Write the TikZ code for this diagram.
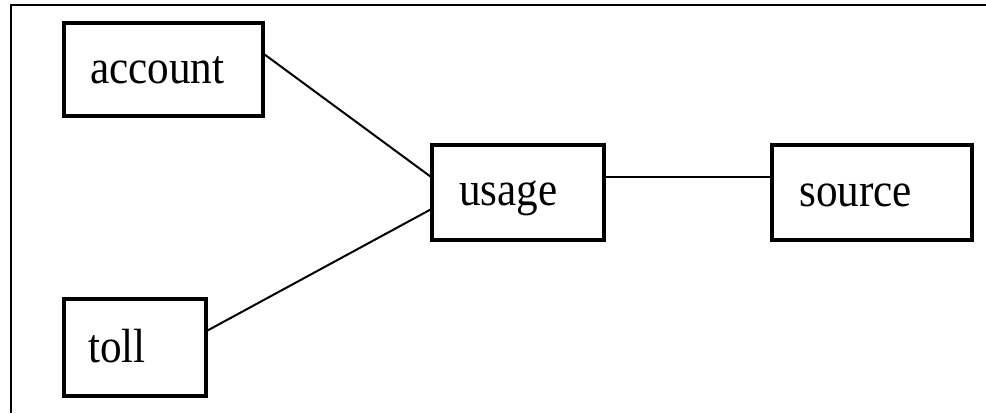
\documentclass[tikz,border=0pt]{standalone}
\usepackage{fontspec}
\setmainfont{Liberation Serif}[FakeStretch=0.9]
\usetikzlibrary{calc}
\begin{document}
\begin{tikzpicture}[x=1pt,y=-1pt,
  box/.style={draw, line width=3.2pt, inner sep=0pt},
  lbl/.style={anchor=base west, inner sep=0pt, font=\fontsize{48}{56}\selectfont},
  conn/.style={line width=2pt}]
\useasboundingbox (0,0) rectangle (986,413);
\coordinate (ftl) at (11,5);
\coordinate (ftr) at (986,5);
\coordinate (fbl) at (11,413);
\draw[line width=2.2pt] (fbl) -- (ftl) -- (ftr);
\node[box, minimum width=199pt, minimum height=93pt] (account) at (163.5,69.5) {};
\node[box, minimum width=142pt, minimum height=97pt] (toll) at (135,347.5) {};
\node[box, minimum width=172pt, minimum height=95pt] (usage) at (518,192.5) {};
\node[box, minimum width=200pt, minimum height=95pt] (source) at (872,192.5) {};
\node[lbl] (taccount) at (90,83) {account};
\node[lbl] (ttoll) at (88,362) {toll};
\node[lbl] (tusage) at (459,205) {usage};
\node[lbl] (tsource) at (799,206) {source};
\draw[conn] ($(account.north east)!0.344!(account.south east)$) -- ($(usage.north west)!0.337!(usage.south west)$);
\draw[conn] ($(toll.north east)!0.33!(toll.south east)$) -- ($(usage.north west)!0.674!(usage.south west)$);
\draw[conn] ($(usage.north east)!0.347!(usage.south east)$) -- ($(source.north west)!0.347!(source.south west)$);
\end{tikzpicture}
\end{document}
